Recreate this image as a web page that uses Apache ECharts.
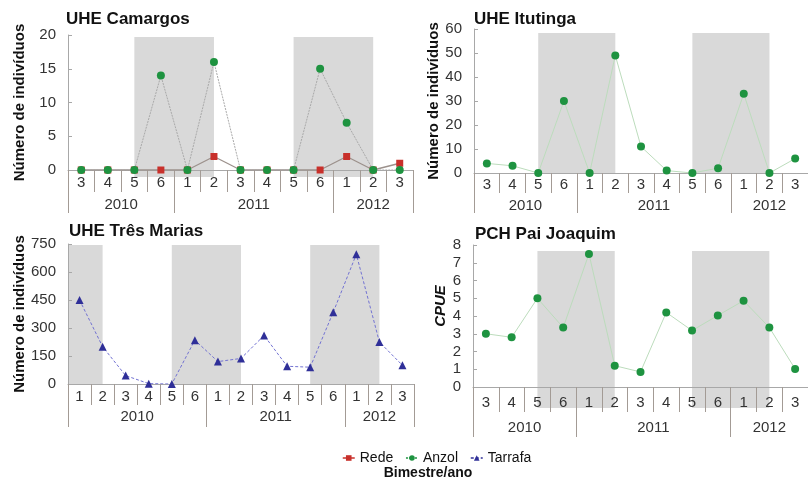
<!DOCTYPE html>
<html><head><meta charset="utf-8">
<script src="https://cdn.jsdelivr.net/npm/echarts@6/dist/echarts.min.js"></script>
<style>html,body{margin:0;padding:0;background:#fff}#c{width:808px;height:489px}</style>
</head><body><div id="c"></div>
<script>
// ---- data ----
var catsA = ['3','4','5','6','1','2','3','4','5','6','1','2','3'];      // Camargos, Itutinga, Pai Joaquim
var catsB = ['1','2','3','4','5','6','1','2','3','4','5','6','1','2','3']; // Três Marias
var years = ['2010','2011','2012'];
var yearBoundsA = [0, 4, 10, 13];
var yearBoundsB = [0, 6, 12, 15];

var camargosRede  = [0,0,0,0,0,2,0,0,0,0,2,0,1];
var camargosAnzol = [0,0,0,14,0,16,0,0,0,15,7,0,0];
var itutingaAnzol = [4,3,0,30,0,49,11,1,0,2,33,0,6];
var tresMariasTarrafa = [450,200,45,2,0,235,120,137,260,95,90,385,695,225,100];
var paiJoaquimAnzol = [3.0,2.8,5.0,3.35,7.5,1.2,0.85,4.2,3.18,4.03,4.86,3.35,1.02];

// shaded periods, as category-index ranges (start index, end index)
var shadeA = [[2,5],[8,11]];
var shadeB = [[-0.5,1],[4,7],[10,13]];

var ticksCamargos = [0,5,10,15,20];
var ticksItutinga = [0,10,20,30,40,50,60];
var ticksTres = [0,150,300,450,600,750];
var ticksPai = [0,1,2,3,4,5,6,7,8];

// ---- styles ----
var FONT = 'Liberation Sans, Arial, sans-serif';
var AX = '#a8a8a8', SEP = '#a39b95', TXT = '#333';
var RED = '#c8302b', GREEN = '#1e9340', BLUE = '#2f2f98';

var panels = [
  {title:'UHE Camargos', left:68, top:35, width:345, height:135, max:20, ticks:ticksCamargos,
   cats:catsA, bounds:yearBoundsA, shade:shadeA, shTop:37, shBot:177, name:'Número de indivíduos', nameGap:41,
   catLen:22, catMargin:5, yrLen:21, yrMargin:5, tx:66, ty:11},
  {title:'UHE Itutinga', left:474, top:29, width:341, height:144, max:60, ticks:ticksItutinga,
   cats:catsA, bounds:yearBoundsA, shade:shadeA, shTop:33, shBot:173, name:'Número de indivíduos', nameGap:31,
   catLen:20, catMargin:4, yrLen:20, yrMargin:5, tx:474, ty:11},
  {title:'UHE Três Marias', left:68, top:244, width:346, height:140, max:750, ticks:ticksTres,
   cats:catsB, bounds:yearBoundsB, shade:shadeB, shTop:245, shBot:384, name:'Número de indivíduos', nameGap:40,
   catLen:21, catMargin:5, yrLen:22, yrMargin:4, tx:69, ty:223},
  {title:'PCH Pai Joaquim', left:473, top:245, width:342, height:142, max:8, ticks:ticksPai,
   cats:catsA, bounds:yearBoundsA, shade:shadeA, shTop:251, shBot:408, name:'CPUE', nameGap:23, italic:true,
   catLen:25, catMargin:8, yrLen:25, yrMargin:8, tx:475, ty:226}
];

var grid = [], xAxis = [], yAxis = [], series = [], title = [];
panels.forEach(function (p, i) {
  grid.push({left:p.left, top:p.top, width:p.width, height:p.height});
  title.push({text:p.title, left:p.tx, top:p.ty, padding:0,
    textStyle:{fontFamily:FONT, fontSize:17, fontWeight:'bold', color:'#111'}});
  var n = p.cats.length;
  xAxis.push({type:'category', gridIndex:i, data:p.cats, boundaryGap:true, position:'bottom',
    axisLine:{onZero:false, lineStyle:{color:AX, width:1}},
    axisTick:{show:true, interval:0, alignWithLabel:false, length:p.catLen, lineStyle:{color:SEP}},
    axisLabel:{interval:0, margin:p.catMargin, fontFamily:FONT, fontSize:15, color:TXT},
    splitLine:{show:false}, z:3});
  var mids = [];
  for (var k = 0; k < years.length; k++) mids.push((p.bounds[k] + p.bounds[k+1]) / 2);
  xAxis.push({type:'value', gridIndex:i, min:0, max:n, position:'bottom', offset:p.catLen,
    axisLine:{show:false, onZero:false},
    axisTick:{show:true, customValues:p.bounds, length:p.yrLen, lineStyle:{color:SEP}},
    axisLabel:{customValues:mids, margin:p.yrMargin, fontFamily:FONT, fontSize:15, color:TXT,
      formatter:function (v) { var j = mids.indexOf(v); return j >= 0 ? years[j] : ''; }},
    splitLine:{show:false}, z:3});
  yAxis.push({type:'value', gridIndex:i, min:0, max:p.max,
    name:p.name, nameLocation:'middle', nameGap:p.nameGap, nameRotate:90,
    nameTextStyle:{fontFamily:FONT, fontSize:15, fontWeight:'bold', fontStyle:p.italic?'italic':'normal', color:'#111',
      padding:p.italic?[0,0,0,20]:0},
    axisLine:{show:true, onZero:false, lineStyle:{color:AX}},
    axisTick:{show:true, inside:true, length:4, customValues:p.ticks, lineStyle:{color:AX}},
    axisLabel:{customValues:p.ticks, margin:12, fontFamily:FONT, fontSize:15, color:TXT},
    splitLine:{show:false}, z:3});
});

// shading grids: same horizontal scale as each panel (value 0..n = category bands)
panels.forEach(function (p, i) {
  var g = grid.length;
  grid.push({left:p.left, top:p.shTop, width:p.width, height:p.shBot - p.shTop});
  xAxis.push({type:'value', gridIndex:g, min:0, max:p.cats.length, show:false});
  yAxis.push({type:'value', gridIndex:g, min:0, max:1, show:false});
  series.push({type:'line', xAxisIndex:xAxis.length-1, yAxisIndex:yAxis.length-1, data:[[0,0]], showSymbol:false,
    silent:true, lineStyle:{opacity:0}, z:-1, tooltip:{show:false},
    markArea:{silent:true, itemStyle:{color:'#d9d9d9', opacity:1}, label:{show:false},
      data:p.shade.map(function (s) { return [{xAxis:s[0]+0.5, yAxis:0}, {xAxis:s[1]+0.5, yAxis:1}]; })}});
});

// Camargos
series.push({name:'Rede', type:'line', xAxisIndex:0, yAxisIndex:0, data:camargosRede,
  symbol:'rect', symbolSize:7, itemStyle:{color:RED}, lineStyle:{color:'#9c918c', width:1.3}, z:4});
series.push({name:'Anzol', type:'line', xAxisIndex:0, yAxisIndex:0, data:camargosAnzol,
  symbol:'circle', symbolSize:8, itemStyle:{color:GREEN}, lineStyle:{color:'#a9a9a9', width:1, type:[2,1]}, z:5});
// Itutinga
series.push({name:'Anzol', type:'line', xAxisIndex:2, yAxisIndex:1, data:itutingaAnzol,
  symbol:'circle', symbolSize:8, itemStyle:{color:GREEN}, lineStyle:{color:'#bcdcbc', width:1}, z:5});
// Três Marias
series.push({name:'Tarrafa', type:'line', xAxisIndex:4, yAxisIndex:2, data:tresMariasTarrafa,
  symbol:'triangle', symbolSize:8, itemStyle:{color:BLUE}, lineStyle:{color:'#7272d2', width:1, type:[3,2]}, z:5});
// Pai Joaquim
series.push({name:'Anzol', type:'line', xAxisIndex:6, yAxisIndex:3, data:paiJoaquimAnzol,
  symbol:'circle', symbolSize:8, itemStyle:{color:GREEN}, lineStyle:{color:'#bcdcbc', width:1}, z:5});

title.push({text:'Bimestre/ano', left:428, textAlign:'center', top:466, padding:0,
  textStyle:{fontFamily:FONT, fontSize:14, fontWeight:'bold', color:'#111'}});

var chart = echarts.init(document.getElementById('c'), null, {renderer:'canvas'});
chart.setOption({
  animation:false,
  title:title,
  legend:{left:342, top:451, itemWidth:12, itemHeight:7, itemGap:12, padding:0,
    textStyle:{fontFamily:FONT, fontSize:14, color:'#111'},
    data:[
      {name:'Rede', itemStyle:{color:RED}, lineStyle:{color:RED, width:1.5}},
      {name:'Anzol', itemStyle:{color:GREEN}, lineStyle:{color:GREEN, width:1.5}},
      {name:'Tarrafa', itemStyle:{color:BLUE}, lineStyle:{color:BLUE, width:1.5}}
    ]},
  grid:grid, xAxis:xAxis, yAxis:yAxis, series:series
});
</script></body></html>
